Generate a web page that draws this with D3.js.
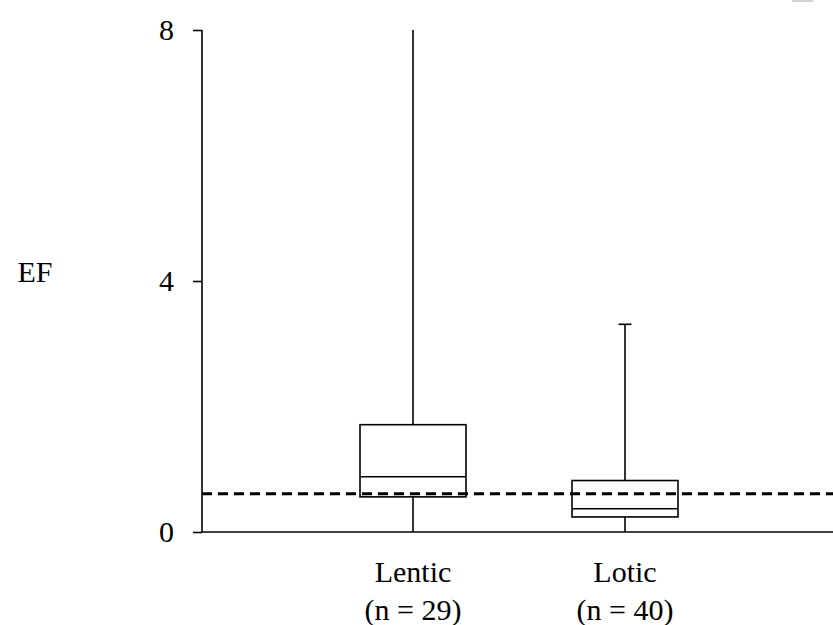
<!DOCTYPE html>
<html>
<head>
<meta charset="utf-8">
<script src="https://cdn.jsdelivr.net/npm/d3@7"></script>
<style>
  body { margin: 0; background: #fff; }
  text { font-family: "Liberation Serif", "Times New Roman", serif; fill: #000; }
</style>
</head>
<body>
<div class="chart"></div>
<script>
// data
const categories = ['Lentic', 'Lotic']
const nLabels = ['(n = 29)', '(n = 40)']
const whiskerLow = [0, 0]
const q1 = [0.56, 0.24]
const median = [0.88, 0.37]
const q3 = [1.71, 0.82]
const whiskerHigh = [8, 3.31]
const hasCap = [false, true]
const refLine = 0.61
const yTicks = [0, 4, 8]

const width = 833
const height = 625

const svg = d3.select('.chart')
  .append('svg')
  .attr('width', width)
  .attr('height', height)

const y = d3.scaleLinear()
  .domain([0, 8])
  .range([532, 30])

const x = d3.scalePoint()
  .domain(categories)
  .range([307, 731])
  .padding(0.5)

const boxW = x.step() * 0.5
const axisX = 202

// little grey mark top right
svg.append('rect')
  .attr('x', 792).attr('y', 0)
  .attr('width', 21).attr('height', 2)
  .attr('fill', '#d0d0d0')

// y axis
const yAxis = svg.append('g')
  .attr('transform', `translate(${axisX},0)`)
  .call(d3.axisLeft(y).tickValues(yTicks).tickSize(9).tickPadding(19).tickFormat(d3.format('d')))

yAxis.select('.domain').remove()
yAxis.append('line')
  .attr('x1', 0).attr('x2', 0)
  .attr('y1', y(8)).attr('y2', y(0))
  .attr('stroke', '#000').attr('stroke-width', 1.6)
yAxis.selectAll('.tick line').attr('stroke', '#000').attr('stroke-width', 1.6)
yAxis.selectAll('.tick text')
  .style('font-family', '"Liberation Serif", serif')
  .style('font-size', '30px')
  .attr('fill', '#000')

// x axis line
svg.append('line')
  .attr('x1', axisX).attr('x2', width)
  .attr('y1', y(0)).attr('y2', y(0))
  .attr('stroke', '#000').attr('stroke-width', 1.6)

svg.append('text')
  .attr('x', 35)
  .attr('y', 282)
  .attr('text-anchor', 'middle')
  .style('font-size', '30px')
  .text('EF')

const data = categories.map((c, i) => ({
  cat: c, n: nLabels[i], lo: whiskerLow[i], q1: q1[i], med: median[i], q3: q3[i], hi: whiskerHigh[i], cap: hasCap[i]
}))

const boxes = svg.selectAll('g.box')
  .data(data)
  .enter().append('g')
  .attr('class', 'box')

boxes.append('line')
  .attr('x1', d => x(d.cat)).attr('x2', d => x(d.cat))
  .attr('y1', d => y(d.q3)).attr('y2', d => y(d.hi))
  .attr('stroke', '#000').attr('stroke-width', 1.6)

boxes.append('line')
  .attr('x1', d => x(d.cat)).attr('x2', d => x(d.cat))
  .attr('y1', d => y(d.q1)).attr('y2', d => y(d.lo))
  .attr('stroke', '#000').attr('stroke-width', 1.6)

boxes.filter(d => d.cap).append('line')
  .attr('x1', d => x(d.cat) - 6.5).attr('x2', d => x(d.cat) + 6.5)
  .attr('y1', d => y(d.hi)).attr('y2', d => y(d.hi))
  .attr('stroke', '#000').attr('stroke-width', 1.6)

boxes.append('rect')
  .attr('x', d => x(d.cat) - boxW / 2)
  .attr('y', d => y(d.q3))
  .attr('width', boxW)
  .attr('height', d => y(d.q1) - y(d.q3))
  .attr('fill', 'none')
  .attr('stroke', '#000').attr('stroke-width', 1.6)

boxes.append('line')
  .attr('x1', d => x(d.cat) - boxW / 2).attr('x2', d => x(d.cat) + boxW / 2)
  .attr('y1', d => y(d.med)).attr('y2', d => y(d.med))
  .attr('stroke', '#000').attr('stroke-width', 1.6)

// category labels
boxes.append('text')
  .attr('x', d => x(d.cat))
  .attr('y', 582)
  .attr('text-anchor', 'middle')
  .style('font-size', '30px')
  .text(d => d.cat)

boxes.append('text')
  .attr('x', d => x(d.cat))
  .attr('y', 620)
  .attr('text-anchor', 'middle')
  .style('font-size', '30px')
  .text(d => d.n)

// dashed reference line
svg.append('line')
  .attr('x1', axisX).attr('x2', width)
  .attr('y1', y(refLine)).attr('y2', y(refLine))
  .attr('stroke', '#000')
  .attr('stroke-width', 3)
  .style('stroke-dasharray', '10,6')
</script>
</body>
</html>
